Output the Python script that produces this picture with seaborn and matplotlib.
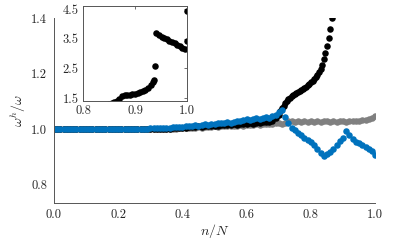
import numpy as np
import matplotlib
matplotlib.use("Agg")
import matplotlib.pyplot as plt
import seaborn as sns

# ---------------- data ----------------
# common n/N grid for blue and gray series (step 0.01)
n_over_N = np.linspace(0.0, 1.0, 101)

blue_vals = [
    1.000, 1.000, 1.000, 1.001, 1.000, 0.999, 1.000, 1.000, 1.001, 1.000,
    1.000, 1.000, 0.999, 1.000, 1.001, 1.000, 1.000, 1.000, 1.001, 1.000,
    1.000, 1.001, 1.000, 1.000, 1.002, 1.001, 1.000, 1.002, 1.001, 1.002,
    1.003,
    1.003, 1.004, 1.003, 1.005, 1.006, 1.005, 1.007, 1.008, 1.007, 1.009,
    1.011, 1.010, 1.012, 1.014, 1.013, 1.015, 1.017, 1.015, 1.018, 1.020,
    1.022, 1.021, 1.024, 1.026, 1.024, 1.027, 1.030, 1.028, 1.032, 1.035,
    1.033, 1.037, 1.040, 1.036, 1.039, 1.043, 1.040, 1.046, 1.052, 1.062,
    1.068, 1.045, 1.022, 1.005, 0.996, 0.988, 0.979, 0.970, 0.962, 0.953,
    0.942, 0.930, 0.915, 0.905, 0.910, 0.918, 0.930, 0.944, 0.957, 0.970,
    0.992, 0.980, 0.966, 0.955, 0.950, 0.942, 0.937, 0.930, 0.921, 0.908,
]

gray_vals = [
    1.000, 1.000, 1.000, 1.000, 1.001, 1.000, 1.000, 0.999, 1.000, 1.000,
    1.001, 1.000, 1.000, 1.000, 1.000, 1.001, 1.000, 1.000, 0.999, 1.000,
    1.000, 1.000, 1.001, 1.000, 1.000, 1.000, 1.001, 1.000, 1.000, 1.001,
    1.000, 1.001, 1.000, 1.001, 1.000, 1.001,
    1.001, 1.002, 1.001, 1.003, 1.004, 1.003, 1.005, 1.004, 1.006, 1.007,
    1.006, 1.008, 1.007, 1.009, 1.010, 1.008, 1.011, 1.010, 1.012, 1.011,
    1.013, 1.012, 1.014, 1.013, 1.015, 1.016, 1.014, 1.017, 1.016, 1.018,
    1.019, 1.017, 1.020, 1.022, 1.024,
    1.020, 1.024, 1.030, 1.028, 1.026, 1.029, 1.027, 1.030, 1.026, 1.029,
    1.027, 1.030, 1.026, 1.028, 1.031, 1.027, 1.029, 1.026, 1.030, 1.028,
    1.027, 1.029, 1.028, 1.030, 1.031, 1.033, 1.034, 1.037, 1.041, 1.046,
]

# black series: first part on the common grid (0.00 - 0.69), then a finer tail
black_head_vals = [
    1.000, 1.000, 1.000, 1.001, 1.000, 1.000, 1.000, 1.000, 1.001, 1.000,
    1.000, 1.000, 1.000, 1.000, 1.001, 1.000, 1.000, 1.000, 1.000, 1.000,
    1.000, 1.001, 1.000, 1.000, 1.001, 1.001, 1.000, 1.001, 1.001, 1.001,
    1.001, 1.002, 1.001, 1.002, 1.002, 1.002,
    1.002, 1.003, 1.003, 1.005, 1.006, 1.005, 1.007, 1.007, 1.009, 1.010,
    1.009, 1.011, 1.010, 1.012, 1.013, 1.012, 1.014, 1.015, 1.016, 1.015,
    1.017, 1.016, 1.019, 1.018, 1.020, 1.022, 1.020, 1.023, 1.022, 1.025,
    1.027, 1.026, 1.030, 1.040,
]
black_tail_x = [
    0.700, 0.705, 0.710, 0.715, 0.720, 0.725, 0.730, 0.735, 0.740, 0.745,
    0.750, 0.755, 0.760, 0.765, 0.770, 0.775, 0.780, 0.785, 0.790, 0.795,
    0.800, 0.805, 0.810, 0.815, 0.820, 0.825, 0.830, 0.835, 0.840, 0.845,
    0.850, 0.855, 0.860, 0.865, 0.870, 0.875, 0.880, 0.885, 0.890, 0.895,
    0.900, 0.905, 0.910, 0.915, 0.920, 0.925, 0.930, 0.934, 0.936, 0.938,
    0.941, 0.946, 0.951, 0.956, 0.961, 0.966, 0.971, 0.976, 0.981, 0.986,
    0.991, 0.996, 0.999, 1.000,
]
black_tail_vals = [
    1.052, 1.064, 1.075, 1.085, 1.094, 1.102, 1.108, 1.114, 1.119, 1.124,
    1.128, 1.131, 1.135, 1.139, 1.142, 1.146, 1.150, 1.153, 1.158, 1.163,
    1.168, 1.173, 1.180, 1.188, 1.196, 1.205, 1.215, 1.232, 1.252, 1.275,
    1.300, 1.327, 1.360, 1.400, 1.48, 1.56, 1.59, 1.60, 1.62, 1.63,
    1.65, 1.67, 1.70, 1.74, 1.79, 1.85, 1.93, 2.05, 2.11, 2.58,
    3.68, 3.62, 3.57, 3.53, 3.48, 3.44, 3.39, 3.34, 3.29, 3.25,
    3.20, 3.15, 3.42, 4.45,
]
black_x = np.concatenate([n_over_N[:70], black_tail_x])
black_vals = np.concatenate([black_head_vals, black_tail_vals])

main_xticks = [0.0, 0.2, 0.4, 0.6, 0.8, 1.0]
main_yticks = [0.8, 1.0, 1.2, 1.4]
inset_xticks = [0.8, 0.9, 1.0]
inset_yticks = [1.5, 2.5, 3.5, 4.5]

BLUE = "#0072BD"
GRAY = "#808080"
BLACK = "#000000"

# ---------------- style ----------------
sns.set_style("white")
plt.rcParams["font.family"] = ["cmr10", "DejaVu Serif"]
plt.rcParams["mathtext.fontset"] = "cm"
plt.rcParams["axes.formatter.use_mathtext"] = True
plt.rcParams["axes.unicode_minus"] = False

TXT = "#262626"
SP = "#555555"

fig = plt.figure(figsize=(4.15, 2.43), dpi=100)
ax = fig.add_axes([0.130, 0.165, 0.774, 0.761])

ms = 22
sns.scatterplot(x=n_over_N, y=gray_vals, ax=ax, color=GRAY, s=ms, linewidth=0, legend=False)
sns.scatterplot(x=black_x, y=black_vals, ax=ax, color=BLACK, s=ms, linewidth=0, legend=False)
sns.scatterplot(x=n_over_N, y=blue_vals, ax=ax, color=BLUE, s=ms, linewidth=0, legend=False)

ax.set_xlim(0, 1)
ax.set_ylim(0.735, 1.4)
ax.set_xticks(main_xticks)
ax.set_xticklabels([f"{v:.1f}" for v in main_xticks])
ax.set_yticks(main_yticks)
ax.set_yticklabels([f"{v:.1f}" for v in main_yticks])
for s in ["top", "right"]:
    ax.spines[s].set_visible(False)
for s in ["left", "bottom"]:
    ax.spines[s].set_color(SP)
    ax.spines[s].set_linewidth(0.7)
ax.tick_params(axis="x", direction="in", length=3, width=0.6, color=SP,
               labelsize=9, labelcolor=TXT, pad=4)
ax.tick_params(axis="y", direction="out", length=3, width=0.6, color=SP,
               labelsize=9, labelcolor=TXT, pad=2)
ax.set_xlabel(r"$n/N$", fontsize=10, color=TXT, labelpad=1)
ax.set_ylabel(r"$\omega^h/\omega$", fontsize=10, color=TXT, labelpad=2)

# ---------------- inset ----------------
ax2 = fig.add_axes([0.200, 0.584, 0.251, 0.391])
sns.scatterplot(x=black_x, y=black_vals, ax=ax2, color=BLACK, s=ms, linewidth=0, legend=False)
ax2.set_xlim(0.8, 1.0)
ax2.set_ylim(1.4, 4.6)
ax2.set_xticks(inset_xticks)
ax2.set_xticklabels([f"{v:.1f}" for v in inset_xticks])
ax2.set_yticks(inset_yticks)
ax2.set_yticklabels([f"{v:.1f}" for v in inset_yticks])
for s in ax2.spines.values():
    s.set_color(SP)
    s.set_linewidth(0.7)
ax2.tick_params(direction="in", top=True, right=True, length=2, width=0.6,
                color=SP, labelsize=9, labelcolor=TXT, pad=3)
ax2.set_xlabel("")
ax2.set_ylabel("")

fig.savefig("out.png", dpi=100)
